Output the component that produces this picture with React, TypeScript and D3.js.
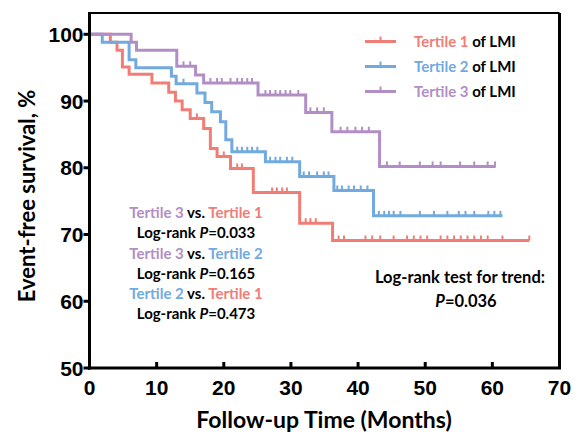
import React from "react";
import * as d3 from "d3";

const T1_TIMES = [3.1, 4.1, 4.9, 5.9, 9.3, 11.8, 12.8, 13.8, 15.0, 17.0, 18.0, 19.0, 21.0, 24.4, 31.3, 36.2];
const T1_SURV = [98.8, 97.6, 95.1, 94.0, 92.7, 91.3, 90.0, 88.7, 87.4, 85.9, 82.9, 81.7, 79.9, 76.3, 71.7, 69.1];
const T1_CENSOR = [16.0, 20.0, 22.0, 22.7, 27.2, 27.9, 28.7, 29.4, 32.2, 32.9, 33.7, 37.1, 37.9, 41.1, 42.1, 43.3, 45.3, 47.3, 48.3, 49.3, 50.3, 52.3, 53.3, 54.3, 55.3, 56.3, 57.3, 58.3, 59.3, 61.5, 65.5];
const T1_END = 65.5;

const T2_TIMES = [1.9, 5.9, 6.9, 12.2, 12.9, 16.0, 17.2, 18.2, 19.5, 20.3, 21.2, 26.2, 31.3, 36.4, 42.3];
const T2_SURV = [98.8, 96.2, 95.0, 93.7, 92.6, 91.2, 89.8, 88.4, 86.9, 84.2, 82.4, 80.9, 78.7, 76.6, 72.8];
const T2_CENSOR = [14.0, 22.0, 22.7, 23.5, 24.2, 25.0, 26.9, 27.7, 28.4, 29.4, 30.2, 31.9, 32.7, 33.9, 34.9, 35.6, 36.9, 37.6, 38.6, 39.4, 40.4, 41.4, 43.1, 43.9, 44.6, 45.3, 46.3, 49.2, 51.3, 53.3, 55.0, 56.0, 57.3, 59.4, 60.3, 61.2];
const T2_END = 61.5;

const T3_TIMES = [6.2, 7.0, 13.0, 15.8, 17.0, 25.1, 32.2, 36.1, 43.2];
const T3_SURV = [98.8, 97.6, 95.2, 93.9, 92.7, 90.9, 88.3, 85.4, 80.2];
const T3_CENSOR = [14.0, 15.0, 18.0, 19.0, 19.7, 21.0, 22.0, 22.7, 23.5, 24.2, 26.2, 26.9, 27.7, 28.4, 29.2, 29.9, 31.1, 32.9, 33.9, 34.9, 37.4, 38.4, 39.6, 40.6, 41.6, 44.3, 46.2, 49.2, 51.1, 52.3, 55.2, 57.3, 59.3, 60.4];
const T3_END = 60.5;

const X_TICKS = [0, 10, 20, 30, 40, 50, 60, 70];
const Y_TICKS = [50, 60, 70, 80, 90, 100];

const RED = "#F07E76";
const BLUE = "#72AADF";
const PURPLE = "#B28EC6";

const LEGEND = [
  { label: "Tertile 1", color: RED },
  { label: "Tertile 2", color: BLUE },
  { label: "Tertile 3", color: PURPLE },
];

const SERIES = [
  { times: T1_TIMES, surv: T1_SURV, censor: T1_CENSOR, end: T1_END, color: RED },
  { times: T2_TIMES, surv: T2_SURV, censor: T2_CENSOR, end: T2_END, color: BLUE },
  { times: T3_TIMES, surv: T3_SURV, censor: T3_CENSOR, end: T3_END, color: PURPLE },
];

const COMPARISONS = [
  { a: "Tertile 3", ac: PURPLE, b: "Tertile 1", bc: RED, p: "0.033" },
  { a: "Tertile 3", ac: PURPLE, b: "Tertile 2", bc: BLUE, p: "0.165" },
  { a: "Tertile 2", ac: BLUE, b: "Tertile 1", bc: RED, p: "0.473" },
];

const W = 585;
const H = 438;
const X0 = 89.5, X1 = 559.5;
const YB = 368, YT = 34.3;
const FRAME_TOP = 13;

const x = d3.scaleLinear().domain([0, 70]).range([X0, X1]);
const y = d3.scaleLinear().domain([50, 100]).range([YB, YT]);

const TXT = "Lato, 'Open Sans', sans-serif";
const NUM = "'Liberation Sans', Arial, sans-serif";

function survAt(times: number[], surv: number[], t: number) {
  let s = 100;
  for (let i = 0; i < times.length; i++) if (times[i] <= t) s = surv[i];
  return s;
}

export default function App() {
  const line = d3
    .line<[number, number]>()
    .x((d) => x(d[0]))
    .y((d) => y(d[1]))
    .curve(d3.curveStepAfter);

  return (
    <svg width={W} height={H} style={{ position: "absolute", left: 0, top: 0, background: "#fff" }}>
      {/* curves */}
      {SERIES.map((s, i) => {
        const pts: [number, number][] = [[0, 100]];
        s.times.forEach((t, j) => pts.push([t, s.surv[j]]));
        pts.push([s.end, s.surv[s.surv.length - 1]]);
        return (
          <g key={i}>
            <path d={line(pts) || ""} fill="none" stroke={s.color} strokeWidth={3} />
            {s.censor.map((c, k) => {
              const v = survAt(s.times, s.surv, c);
              return (
                <line key={k} x1={x(c)} x2={x(c)} y1={y(v)} y2={y(v) - 5} stroke={s.color} strokeWidth={2} />
              );
            })}
          </g>
        );
      })}

      {/* frame */}
      <line x1={X0} x2={X1} y1={FRAME_TOP} y2={FRAME_TOP} stroke="#000" strokeWidth={2} />
      <line x1={X1} x2={X1} y1={FRAME_TOP} y2={YB} stroke="#000" strokeWidth={3} />
      <line x1={X0} x2={X0} y1={FRAME_TOP - 1} y2={YB + 1.5} stroke="#000" strokeWidth={3} />
      <line x1={X0 - 1.5} x2={X1 + 1.5} y1={YB} y2={YB} stroke="#000" strokeWidth={3} />

      {/* y ticks */}
      {Y_TICKS.map((t) => (
        <g key={t}>
          <line x1={X0 - 6} x2={X0} y1={y(t)} y2={y(t)} stroke="#000" strokeWidth={3} />
          <text x={X0 - 6} y={y(t) + 7.5} textAnchor="end" fontFamily={NUM} fontWeight="bold" fontSize={21}>
            {t}
          </text>
        </g>
      ))}
      {/* x ticks */}
      {X_TICKS.map((t) => (
        <g key={t}>
          <line x1={x(t)} x2={x(t)} y1={YB} y2={YB - 6} stroke="#000" strokeWidth={3} />
          <text x={x(t)} y={YB + 27} textAnchor="middle" fontFamily={NUM} fontWeight="bold" fontSize={21}>
            {t}
          </text>
        </g>
      ))}

      {/* axis titles */}
      <text x={324} y={428} textAnchor="middle" fontFamily={TXT} fontWeight="bold" fontSize={23}>
        Follow-up Time (Months)
      </text>
      <text
        transform="translate(35,196) rotate(-90)"
        textAnchor="middle"
        fontFamily={TXT}
        fontWeight="bold"
        fontSize={22}
      >
        Event-free survival, %
      </text>

      {/* legend */}
      {LEGEND.map((l, i) => {
        const ly = 41.5 + i * 25;
        return (
          <g key={i}>
            <line x1={365} x2={396} y1={ly} y2={ly} stroke={l.color} strokeWidth={3} />
            <line x1={380.5} x2={380.5} y1={ly} y2={ly - 5} stroke={l.color} strokeWidth={2} />
            <text x={414} y={ly + 5} fontFamily={TXT} fontWeight="bold" fontSize={15}>
              <tspan fill={l.color}>{l.label}</tspan>
              <tspan fill="#000"> of LMI</tspan>
            </text>
          </g>
        );
      })}

      {/* comparisons */}
      {COMPARISONS.map((c, i) => {
        const cy = 218 + i * 40.5;
        return (
          <g key={i} fontFamily={TXT} fontWeight="bold" fontSize={15} textAnchor="middle">
            <text x={196} y={cy}>
              <tspan fill={c.ac}>{c.a}</tspan>
              <tspan fill="#000"> vs. </tspan>
              <tspan fill={c.bc}>{c.b}</tspan>
            </text>
            <text x={196} y={cy + 20}>
              <tspan>Log-rank </tspan>
              <tspan fontStyle="italic">P</tspan>
              <tspan>={c.p}</tspan>
            </text>
          </g>
        );
      })}

      {/* trend test */}
      <g fontFamily={TXT} fontWeight="bold" fontSize={16.5} textAnchor="middle">
        <text x={460} y={283}>Log-rank test for trend:</text>
        <text x={466} y={307}>
          <tspan fontStyle="italic">P</tspan>
          <tspan>=0.036</tspan>
        </text>
      </g>
    </svg>
  );
}
